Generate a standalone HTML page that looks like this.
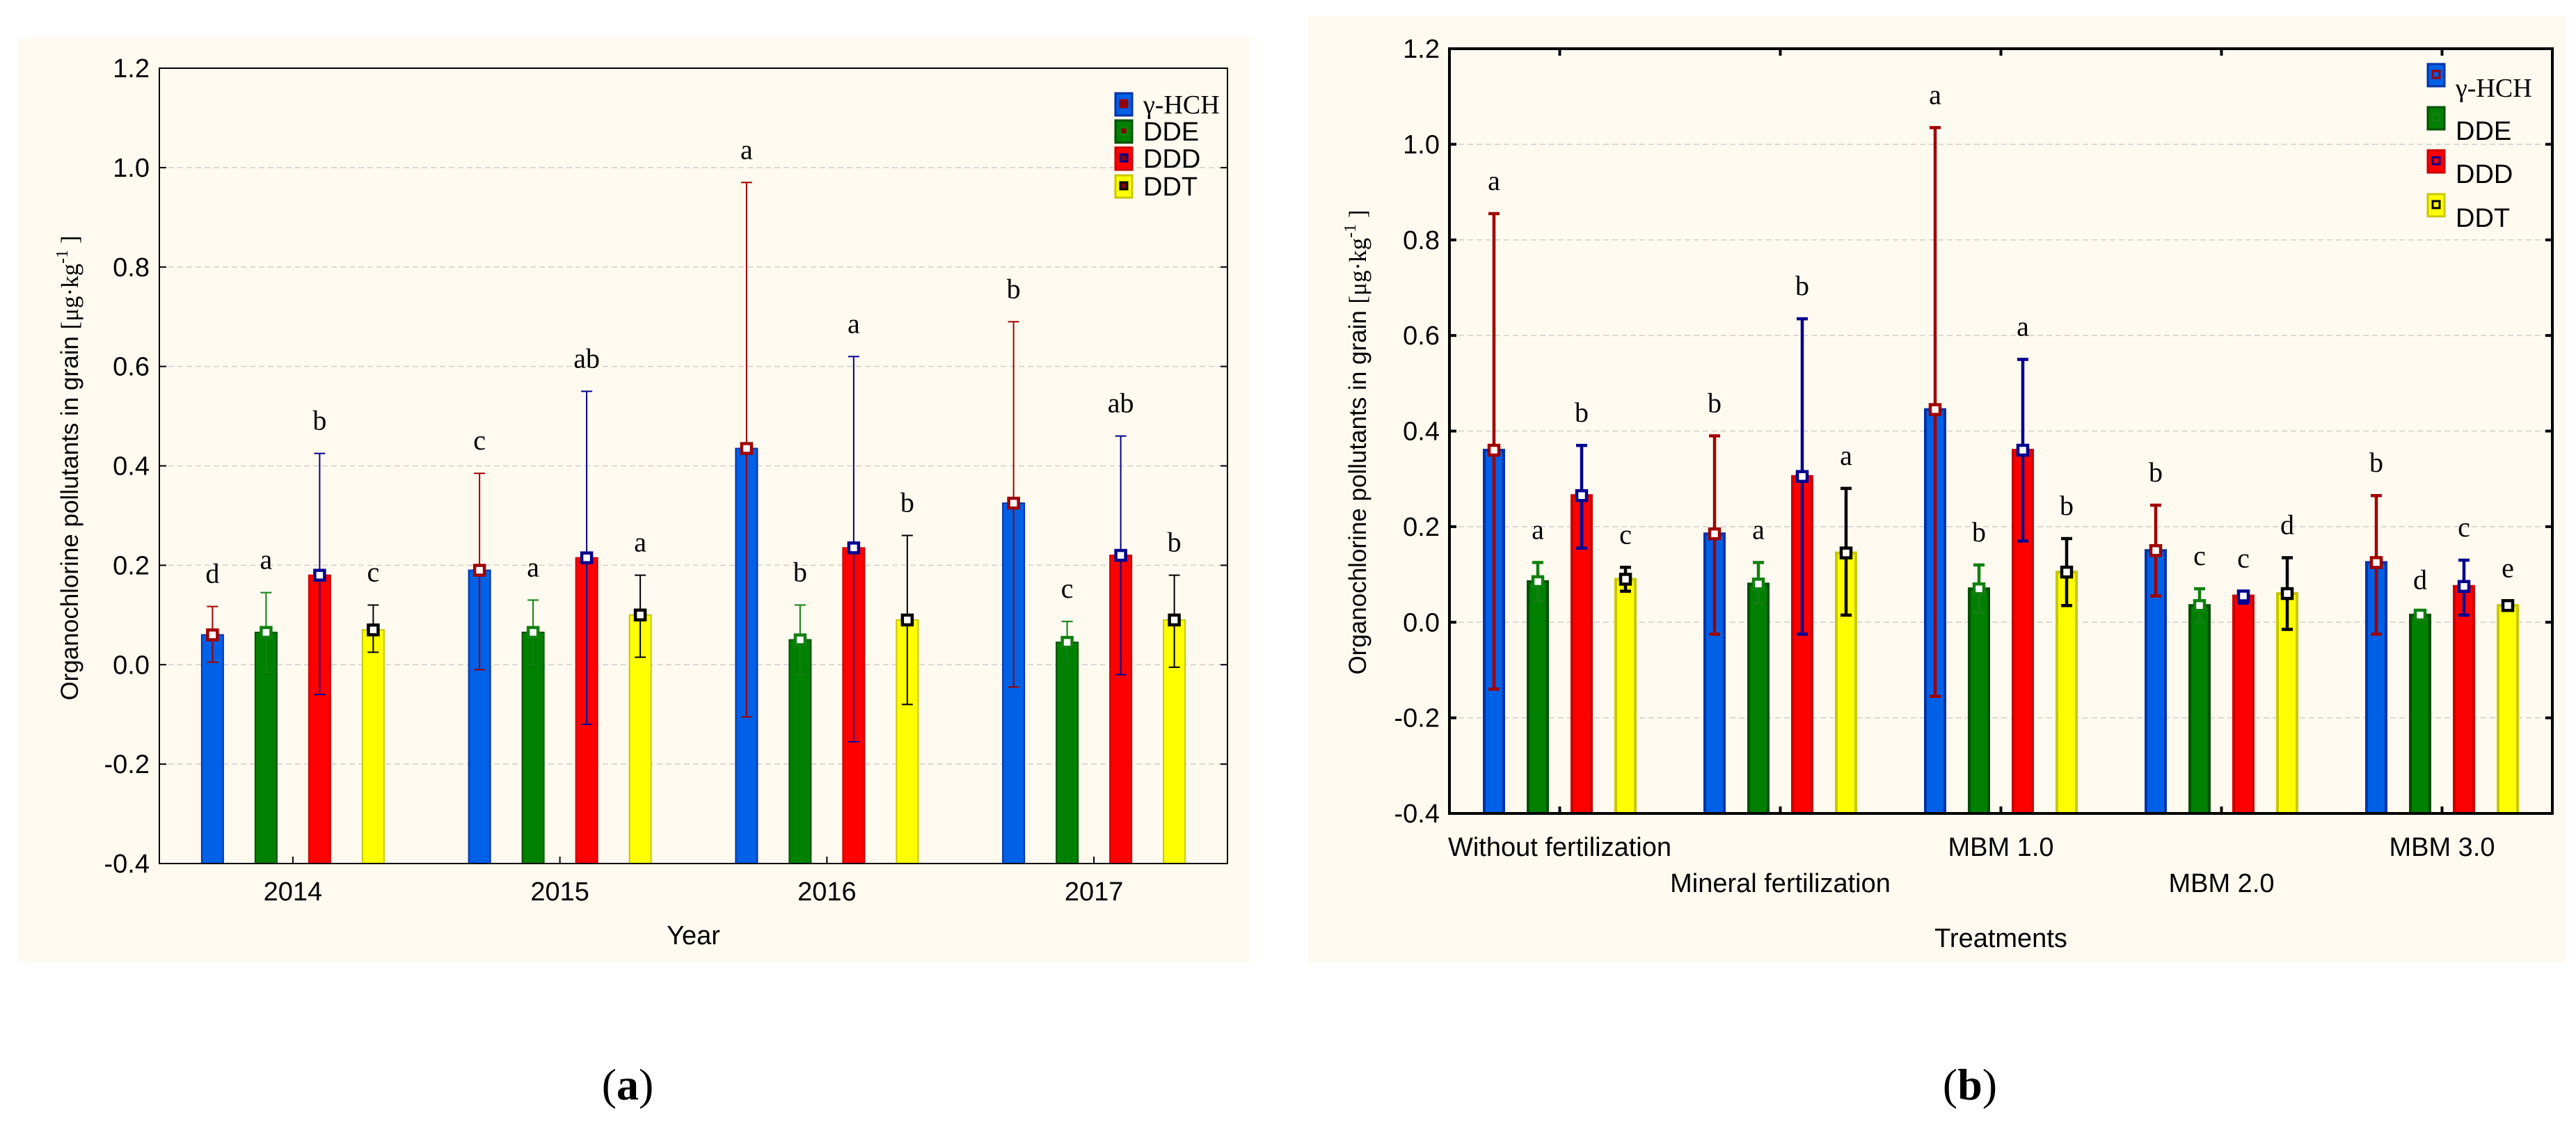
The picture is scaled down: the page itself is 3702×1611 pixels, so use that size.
<!DOCTYPE html>
<html><head><meta charset="utf-8"><style>
html,body{margin:0;padding:0;background:#fff;}
svg{display:block;}
text{font-family:"Liberation Sans",sans-serif;}
.serif{font-family:"Liberation Serif",serif;}
</style></head><body>
<svg id="root" width="3702" height="1611" viewBox="0 0 3702 1611" xmlns="http://www.w3.org/2000/svg">
<rect x="26" y="53" width="1770" height="1331" fill="#fffaf0"/>
<rect x="1880" y="23" width="1808" height="1361" fill="#fffaf0"/>
<text x="902" y="1580" class="serif" font-size="64" text-anchor="middle">(<tspan font-weight="bold">a</tspan>)</text>
<text x="2831" y="1580" class="serif" font-size="64" text-anchor="middle">(<tspan font-weight="bold">b</tspan>)</text>
</svg>
<script>
// ---- Chart A data ----
const catsA = ["2014","2015","2016","2017"];
const hchA = [0.06,0.19,0.435,0.325];
const hchLoA = [0.005,-0.01,-0.105,-0.045];
const hchHiA = [0.117,0.385,0.97,0.69];
const ddeA = [0.065,0.065,0.05,0.045];
const ddeLoA = [-0.015,0.0,-0.02,0.005];
const ddeHiA = [0.145,0.13,0.12,0.087];
const dddA = [0.18,0.215,0.235,0.22];
const dddLoA = [-0.06,-0.12,-0.155,-0.02];
const dddHiA = [0.425,0.55,0.62,0.46];
const ddtA = [0.07,0.1,0.09,0.09];
const ddtLoA = [0.025,0.015,-0.08,-0.005];
const ddtHiA = [0.12,0.18,0.26,0.18];
const lettersA = [["d","a","b","c"],["c","a","ab","a"],["a","b","a","b"],["b","c","ab","b"]];
// ---- Chart B data ----
const catsB = ["Without fertilization","Mineral fertilization","MBM 1.0","MBM 2.0","MBM 3.0"];
const hchB = [0.36,0.185,0.445,0.15,0.125];
const hchLoB = [-0.14,-0.025,-0.155,0.055,-0.025];
const hchHiB = [0.855,0.39,1.035,0.245,0.265];
const ddeB = [0.085,0.08,0.07,0.035,0.015];
const ddeLoB = [0.045,0.04,0.02,0.0,0.01];
const ddeHiB = [0.125,0.125,0.12,0.07,0.02];
const dddB = [0.265,0.305,0.36,0.055,0.075];
const dddLoB = [0.155,-0.025,0.17,0.04,0.015];
const dddHiB = [0.37,0.635,0.55,0.065,0.13];
const ddtB = [0.09,0.145,0.105,0.06,0.035];
const ddtLoB = [0.065,0.015,0.035,-0.015,0.025];
const ddtHiB = [0.115,0.28,0.175,0.135,0.045];
const lettersB = [["a","a","b","c"],["b","a","b","a"],["a","b","a","b"],["b","c","c","d"],["b","d","c","e"]];
const yTicks = [-0.4,-0.2,0.0,0.2,0.4,0.6,0.8,1.0,1.2];
const seriesNames = ["γ-HCH","DDE","DDD","DDT"];

const NS = "http://www.w3.org/2000/svg";
const root = document.getElementById("root");
function mk(tag, attrs, parent){
  const e = document.createElementNS(NS, tag);
  for (const k in attrs) e.setAttribute(k, attrs[k]);
  (parent||root).appendChild(e);
  return e;
}
const fills = ["#0060e6","#008000","#ff0000","#ffff00"];
const strokes = ["#0033aa","#005000","#cc0000","#c8c800"];
const errCol = ["#a00000","#108010","#000090","#000000"];

function drawChart(o){
  const g = mk("g", {});
  
  
  const y = v => o.top + (1.2 - v) / 1.6 * (o.bottom - o.top);
  const bw = (o.right - o.left) / o.cats.length;
  const cx = i => o.left + (i + 0.5) * bw;
  yTicks.forEach(t => {
    if (t > -0.4 && t < 1.2) {
      const gl = mk("line", {x1:o.left,x2:o.right,y1:y(t),y2:y(t),stroke:"#cfcfcf","stroke-width":1.5,"stroke-dasharray":"8,5"}, g);
      
      
    }
    const tk = mk("line", {x1:o.left,x2:o.left+10,y1:y(t),y2:y(t),stroke:"#000","stroke-width":o.sw}, g);
    
    
    const tk2 = mk("line", {x1:o.right-10,x2:o.right,y1:y(t),y2:y(t),stroke:"#000","stroke-width":o.sw}, g);
    
    
    const tl = mk("text", {x:o.left-14,y:y(t)+13,"font-size":38,"text-anchor":"end"}, g);
    tl.textContent = t.toFixed(1);
    
    
  });
  const offs = [-1.5,-0.5,0.5,1.5];
  o.cats.forEach((c, i) => {
    const tk = mk("line", {x1:cx(i),x2:cx(i),y1:o.bottom,y2:o.bottom-10,stroke:"#000","stroke-width":o.sw}, g);
    
    
    if (o.topTicks) {
      const tt = mk("line", {x1:cx(i),x2:cx(i),y1:o.top,y2:o.top+10,stroke:"#000","stroke-width":o.sw}, g);
      
      
    }
    const ly = o.stagger ? (i % 2 === 0 ? o.labY1 : o.labY2) : o.labY1;
    const lab = mk("text", {x:cx(i),y:ly,"font-size":38,"text-anchor":"middle"}, g);
    lab.textContent = c;
    
    
    o.series.forEach((s, k) => {
      const xc = cx(i) + offs[k] * o.step;
      const v = s.v[i];
      const bar = mk("rect", {x:xc-o.barW/2,y:y(v),width:o.barW,height:o.bottom-y(v),fill:fills[k],stroke:strokes[k],"stroke-width":o.sw}, g);
      
      
      const lo = s.lo[i], hi = s.hi[i];
      const eb = mk("path", {d:`M${xc},${y(lo)}V${y(hi)}M${xc-8},${y(lo)}H${xc+8}M${xc-8},${y(hi)}H${xc+8}`,stroke:errCol[k],"stroke-width":o.esw,fill:"none"}, g);
      
      
      const m = mk("rect", {x:xc-7,y:y(v)-7,width:14,height:14,fill:"#fff",stroke:errCol[k],"stroke-width":4.5}, g);
      
      
      const lt = mk("text", {x:xc,y:y(hi)-34,"font-size":40,"text-anchor":"middle",class:"serif"}, g);
      lt.textContent = o.letters[i][k];
      
      
    });
  });
  const fr = mk("rect", {x:o.left,y:o.top,width:o.right-o.left,height:o.bottom-o.top,fill:"none",stroke:"#000","stroke-width":o.sw}, g);
  
  
  const yt = mk("text", {x:0,y:0,"font-size":35,"text-anchor":"middle",transform:`translate(${o.left-o.titleOff},${(o.top+o.bottom)/2 + o.titleDy}) rotate(-90)`}, g);
  yt.innerHTML = 'Organochlorine pollutants in grain <tspan class="serif">[μg·kg</tspan><tspan class="serif" font-size="24" dy="-15">-1</tspan><tspan class="serif" dy="15"> ]</tspan>';
  
  
  const xt = mk("text", {x:(o.left+o.right)/2,y:o.xTitleY,"font-size":38,"text-anchor":"middle"}, g);
  xt.textContent = o.xTitle;
  
  
  seriesNames.forEach((n, k) => {
    const ry = o.legY[k];
    const sw = mk("rect", {x:o.legX,y:ry-16,width:24,height:32,fill:fills[k],stroke:strokes[k],"stroke-width":3}, g);
    
    
    const sm = mk("rect", {x:o.legX+7,y:ry-6,width:10,height:10,fill:o.legMarkFill,stroke:errCol[k],"stroke-width":3}, g);
    
    
    const t = mk("text", {x:o.legX+40,y:ry+13+o.legTextDy,"font-size":38}, g);
    if (k === 0) t.setAttribute("class", "serif");
    t.textContent = n;
    
    
  });
}
drawChart({name:"chart-a",left:229,right:1764,top:98,bottom:1241,cats:catsA,stagger:false,topTicks:false,
  series:[{v:hchA,lo:hchLoA,hi:hchHiA},{v:ddeA,lo:ddeLoA,hi:ddeHiA},{v:dddA,lo:dddLoA,hi:dddHiA},{v:ddtA,lo:ddtLoA,hi:ddtHiA}],
  letters:lettersA,step:77,barW:31,sw:2,esw:2,xTitle:"Year",xTitleY:1357,labY1:1294,labY2:1294,
  titleOff:117,titleDy:3,legX:1603,legY:[150,189,228,268],legMarkFill:"#800",legTextDy:0});
drawChart({name:"chart-b",left:2083,right:3668,top:70,bottom:1169,cats:catsB,stagger:true,topTicks:true,
  series:[{v:hchB,lo:hchLoB,hi:hchHiB},{v:ddeB,lo:ddeLoB,hi:ddeHiB},{v:dddB,lo:dddLoB,hi:dddHiB},{v:ddtB,lo:ddtLoB,hi:ddtHiB}],
  letters:lettersB,step:63,barW:28,sw:4,esw:4.5,xTitle:"Treatments",xTitleY:1361,labY1:1230,labY2:1282,
  titleOff:120,titleDy:16,legX:3489,legY:[108,170,232,295],legMarkFill:"none",legTextDy:18});
</script>
</body></html>
